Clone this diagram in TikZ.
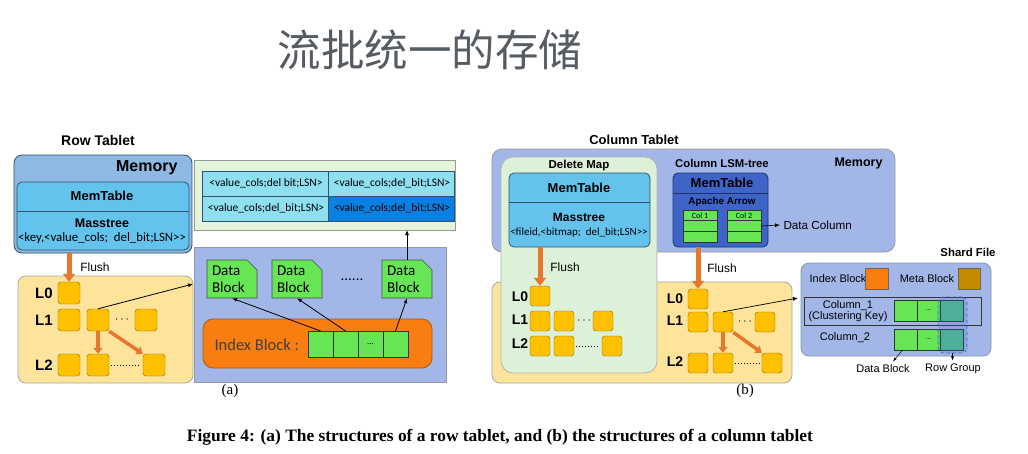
\documentclass[tikz,border=0pt]{standalone}
\usepackage{fontspec}
\setmainfont{Liberation Serif}
\setsansfont{Liberation Sans}
\newfontfamily\calfont{Carlito}
\newfontfamily\cjkfont{Noto Sans CJK SC}
\usetikzlibrary{arrows.meta,positioning,calc}
\definecolor{Ink}{HTML}{34506E}
\definecolor{MemBlue}{HTML}{8DB9E3}
\definecolor{TabCyan}{HTML}{64C3EC}
\definecolor{LsmYellow}{HTML}{FDE49A}
\definecolor{SstGold}{HTML}{FFC000}
\definecolor{FlushOrange}{HTML}{E8772E}
\definecolor{CacheGreen}{HTML}{E3F6DC}
\definecolor{CellCyan}{HTML}{8EDFF0}
\definecolor{CellBlue}{HTML}{0A80E2}
\definecolor{Periwinkle}{HTML}{A2B7E8}
\definecolor{BlockGreen}{HTML}{66E655}
\definecolor{IdxOrange}{HTML}{FA7D10}
\definecolor{ArrowBlue}{HTML}{3F64C8}
\definecolor{MetaBrown}{HTML}{C48A00}
\definecolor{GroupTeal}{HTML}{52C48C}
\definecolor{MapGreen}{HTML}{DDF0D8}
\definecolor{TitleGray}{HTML}{575C62}
\newcommand{\celldots}{...}

\begin{document}
\begin{tikzpicture}[x=1pt,y=-1pt,
  box/.style={anchor=north west,inner sep=0pt,outer sep=0pt},
  sst/.style={draw=SstGold!55!black,fill=SstGold,rounded corners=3pt,minimum width=#1,minimum height=#1,inner sep=0pt},
  sst/.default=22pt,
  lvl/.style={font=\sffamily\bfseries\fontsize{15}{15}\selectfont},
  flush/.style={FlushOrange,line width=5pt,-{Triangle[width=12pt,length=8pt]}},
  merge/.style={FlushOrange,line width=3.5pt,-{Triangle[width=9pt,length=6pt]}},
  link/.style={black,line width=0.8pt,-{Latex[length=5pt,width=4pt]}},
  dblock/.style={draw=black!70,fill=BlockGreen,line width=0.7pt},
  dtext/.style={minimum width=50pt,minimum height=38pt,text width=40pt,align=left,inner sep=0pt,font=\calfont\fontsize{15}{16.5}\selectfont},
  cell/.style={draw=black!80,fill=BlockGreen,line width=0.6pt,inner sep=0pt},
  lbl/.style={font=\sffamily\fontsize{11}{11}\selectfont},
  hd/.style={font=\sffamily\bfseries\fontsize{#1}{#1}\selectfont}]
\useasboundingbox (0,0) rectangle (1028,453);
\fill[white] (0,0) rectangle (1028,453);
\node[font=\cjkfont\fontsize{43.5}{43.5}\selectfont,text=TitleGray] (title) at (430,50) {流批统一的存储};

% (a) row tablet
\node[hd=14] (rtitle) at (98,140) {Row Tablet};
\node[box,draw=Ink,fill=MemBlue,rounded corners=8pt,line width=0.8pt,minimum width=178pt,minimum height=98pt] (rmem) at (14,155) {};
\node[hd=16,anchor=east] (rmeml) at (181,168) {Memory};
\node[box,draw=Ink,fill=TabCyan,rounded corners=5pt,line width=0.8pt,minimum width=172pt,minimum height=68pt] (rtab) at (17,182) {};
\draw[Ink,line width=0.8pt] (17,211) -- (189,211);
\node[hd=13] (rmt) at (102,196) {MemTable};
\node[hd=12.5] (rms) at (102,223) {Masstree};
\node[font=\calfont\fontsize{12.8}{12.8}\selectfont] (rkey) at (102,238) {<key,<value\_cols;\ \ del\_bit;LSN>>};

\node[box,draw=black!35,fill=LsmYellow,rounded corners=8pt,line width=0.8pt,minimum width=175pt,minimum height=107pt] (rlsm) at (18,276) {};
\foreach \l/\y in {L0/293,L1/320,L2/365} \node[lvl] (r\l) at (44,\y) {\l};
\node[sst] (r00) at (69,293) {};
\foreach \n/\x in {1/69,2/98,3/146} \node[sst] (r1\n) at (\x,320) {};
\foreach \n/\x in {1/69,2/98,3/154} \node[sst] (r2\n) at (\x,365) {};
\node[font=\bfseries\fontsize{13}{13}\selectfont] (rdots) at (122,320) {$\cdots$};
\draw[dotted,line width=1pt,shorten <=2pt,shorten >=2pt] (r22.east) -- (r23.west);
\draw[flush] (rmem.south -| r00) -- (r00.north);
\node[font=\sffamily\fontsize{12}{12}\selectfont] (rfl) at (95,267) {Flush};
\draw[merge] (r12.south) -- (r22.north);
\draw[merge] (r12.south east) -- (r23.north west);
\coordinate (rin) at (193,284);
\draw[link] (r12.north) -- (rin);

\node[box,draw=black!40,fill=CacheGreen,line width=0.8pt,minimum width=261pt,minimum height=70pt] (rcache) at (194,160) {};
\foreach \n/\x/\y/\c/\t in {11/202/171/CellCyan/del bit,12/328/171/CellCyan/del\_bit,21/202/196/CellCyan/del\_bit,22/328/196/CellBlue/del\_bit}
  \node[box,draw=Ink,fill=\c,line width=0.6pt,minimum width=126pt,minimum height=25pt,font=\calfont\fontsize{11.5}{11.5}\selectfont] (c\n) at (\x,\y) {\hspace*{2pt}<value\_cols;\t;LSN>};

\node[box,draw=black!40,fill=Periwinkle,line width=0.8pt,minimum width=252pt,minimum height=135pt] (rsst) at (194,247) {};
\foreach \n/\x in {1/207,2/272,3/382}{
  \draw[dblock] (\x,260) -- ++(40,0) -- ++(10,10) -- ++(0,28) -- ++(-50,0) -- cycle;
  \node[dtext] (db\n) at (\x+25,279) {Data\\Block};
}
\node[font=\calfont\fontsize{15}{15}\selectfont] (rdd) at (352,280) {......};
\node[box,draw=IdxOrange!70!black,fill=IdxOrange,rounded corners=10pt,line width=0.8pt,minimum width=229pt,minimum height=49pt] (ridx) at (203,319) {};
\node[anchor=west,font=\calfont\fontsize{16.5}{16.5}\selectfont,text=black!75] (ridxl) at (211,345) {Index Block :};
\foreach \n/\x/\t in {1/308/,2/333/,3/358/\celldots,4/383/}
  \node[box,cell,minimum width=25pt,minimum height=26pt,font=\calfont\fontsize{9}{9}\selectfont] (ic\n) at (\x,331) {\t};
\draw[link] (ic1.north) -- (db1.south);
\draw[link] (ic2.north) -- (db2.south);
\draw[link] (ic4.north) -- (db3.south);
\draw[link] (db3.north) -- (db3.north |- rcache.south);
\node[font=\fontsize{15}{15}\selectfont] (capa) at (230,391) {(a)};

% (b) column tablet
\node[hd=13] (ctitle) at (634,140) {Column Tablet};
\node[box,draw=black!40,fill=Periwinkle,rounded corners=10pt,line width=0.8pt,minimum width=403pt,minimum height=103pt] (cmem) at (492,149) {};
\node[hd=12.5,anchor=east] (cmeml) at (886,163) {Memory};
\node[box,draw=black!35,fill=LsmYellow,rounded corners=8pt,line width=0.8pt,minimum width=300pt,minimum height=101pt] (clsm) at (492,282) {};
\node[box,draw=black!30,fill=MapGreen,rounded corners=12pt,line width=0.8pt,minimum width=156pt,minimum height=216pt] (dmap) at (501,157) {};
\node[hd=11.5] (dmapl) at (579,166) {Delete Map};
\node[box,draw=Ink,fill=TabCyan,rounded corners=5pt,line width=0.8pt,minimum width=141pt,minimum height=74pt] (dtab) at (509,173) {};
\draw[Ink,line width=0.8pt] (509,202) -- (650,202);
\node[hd=13] (dmt) at (579,188) {MemTable};
\node[hd=12] (dms) at (579,217) {Masstree};
\node[font=\calfont\fontsize{11}{11}\selectfont] (dkey) at (579,233) {<fileid,<bitmap;\ \ del\_bit;LSN>>};

\foreach \l/\y in {L0/297,L1/320,L2/344} \node[lvl,font=\sffamily\bfseries\fontsize{14}{14}\selectfont] (d\l) at (520,\y) {\l};
\node[sst=20pt] (d00) at (540,296) {};
\foreach \n/\x in {1/540,2/564,3/603} \node[sst=20pt] (d1\n) at (\x,321) {};
\foreach \n/\x in {1/540,2/564,3/612} \node[sst=20pt] (d2\n) at (\x,346) {};
\node[font=\bfseries\fontsize{12}{12}\selectfont] (ddots) at (584,321) {$\cdots$};
\draw[dotted,line width=1pt,shorten <=2pt,shorten >=2pt] (d22.east) -- (d23.west);
\draw[flush] (dtab.south -| d00) -- (d00.north);
\node[font=\sffamily\fontsize{12}{12}\selectfont] (dfl) at (565,267) {Flush};

\node[hd=11.3] (clsml) at (722,163) {Column LSM-tree};
\node[box,draw=ArrowBlue!50!black,fill=ArrowBlue,rounded corners=5pt,line width=0.8pt,minimum width=95pt,minimum height=74pt] (ctab) at (673,173) {};
\draw[ArrowBlue!50!black,line width=0.8pt] (673,193) -- (768,193);
\node[hd=13] (cmt) at (722,183) {MemTable};
\node[hd=9.9] (carr) at (722,202) {Apache Arrow};
\foreach \c/\x/\t in {a/683/Col 1,b/727/Col 2}{
  \node[box,cell,minimum width=34pt,minimum height=10.7pt,font=\calfont\fontsize{8}{8}\selectfont] (c\c1) at (\x,210) {\t};
  \node[box,cell,minimum width=34pt,minimum height=10.7pt] (c\c2) at (\x,220.7) {};
  \node[box,cell,minimum width=34pt,minimum height=10.7pt] (c\c3) at (\x,231.4) {};
}
\node[lbl,anchor=west,font=\sffamily\fontsize{11.7}{11.7}\selectfont] (dcol) at (780,225) {Data Column};
\draw[link,line width=0.6pt] (cb2.east) -- (dcol.west);

\foreach \l/\y in {L0/299,L1/321,L2/362} \node[lvl,font=\sffamily\bfseries\fontsize{14}{14}\selectfont] (c\l) at (675,\y) {\l};
\node[sst=20pt] (c00) at (698,299) {};
\foreach \n/\x in {1/698,2/723,3/765} \node[sst=20pt] (c1\n) at (\x,322) {};
\foreach \n/\x in {1/698,2/723,3/772} \node[sst=20pt] (c2\n) at (\x,363) {};
\node[font=\bfseries\fontsize{12}{12}\selectfont] (cdots) at (745,322) {$\cdots$};
\draw[dotted,line width=1pt,shorten <=2pt,shorten >=2pt] (c22.east) -- (c23.west);
\draw[flush] (ctab.south -| c00) -- (c00.north);
\node[font=\sffamily\fontsize{12}{12}\selectfont] (cfl) at (722,268) {Flush};
\draw[merge] (c12.south) -- (c22.north);
\draw[merge] (c12.south east) -- (c23.north west);
\coordinate (cin) at (798,298);
\draw[link,line width=0.7pt] (c12.north) -- (cin);
\node[font=\fontsize{15}{15}\selectfont] (capb) at (745,391) {(b)};

% shard file
\node[hd=11.4] (shl) at (968,252) {Shard File};
\node[box,draw=Ink!60,fill=Periwinkle,rounded corners=8pt,line width=0.8pt,minimum width=190pt,minimum height=93pt] (shard) at (801,263) {};
\node[lbl] (sibl) at (838,279) {Index Block};
\node[box,draw=black!60,fill=IdxOrange,line width=0.6pt,minimum width=23pt,minimum height=21pt] (sib) at (865,268) {};
\node[lbl] (smbl) at (927,279) {Meta Block};
\node[box,draw=black!60,fill=MetaBrown,line width=0.6pt,minimum width=22pt,minimum height=21pt] (smb) at (958,268) {};
\node[box,draw=black!80,line width=0.6pt,minimum width=177pt,minimum height=28pt] (c1row) at (804,297) {};
\node[lbl,align=center] (c1l) at (848,311) {Column\_1\\(Clustering Key)};
\node[lbl] (c2l) at (845,338) {Column\_2};
\foreach \r/\y in {1/300,2/329}
  \foreach \n/\x/\c/\t in {1/894/BlockGreen/,2/917/BlockGreen/\celldots,3/940/GroupTeal/}
    \node[box,cell,fill=\c,minimum width=23pt,minimum height=21pt,font=\calfont\fontsize{7}{7}\selectfont] (s\r\n) at (\x,\y) {\t};
\node[box,draw=ArrowBlue,dashed,fill=ArrowBlue,fill opacity=0.22,rounded corners=5pt,line width=0.7pt,minimum width=29pt,minimum height=56pt] (rgrp) at (938,297) {};
\node[lbl] (sdb) at (883,369) {Data Block};
\node[lbl] (srg) at (953,369) {Row Group};
\draw[link,line width=0.5pt,-{Latex[length=4pt,width=3pt]}] ([xshift=-3pt]s21.south) -- ([xshift=10pt]sdb.north);
\draw[link,line width=0.5pt,-{Latex[length=4pt,width=3pt]}] (rgrp.south) -- (srg.north -| rgrp.south);

\node[font=\rmfamily\bfseries\fontsize{17.4}{17.4}\selectfont] (cap) at (500,437) {Figure 4: (a) The structures of a row tablet, and (b) the structures of a column tablet};
\end{tikzpicture}
\end{document}
